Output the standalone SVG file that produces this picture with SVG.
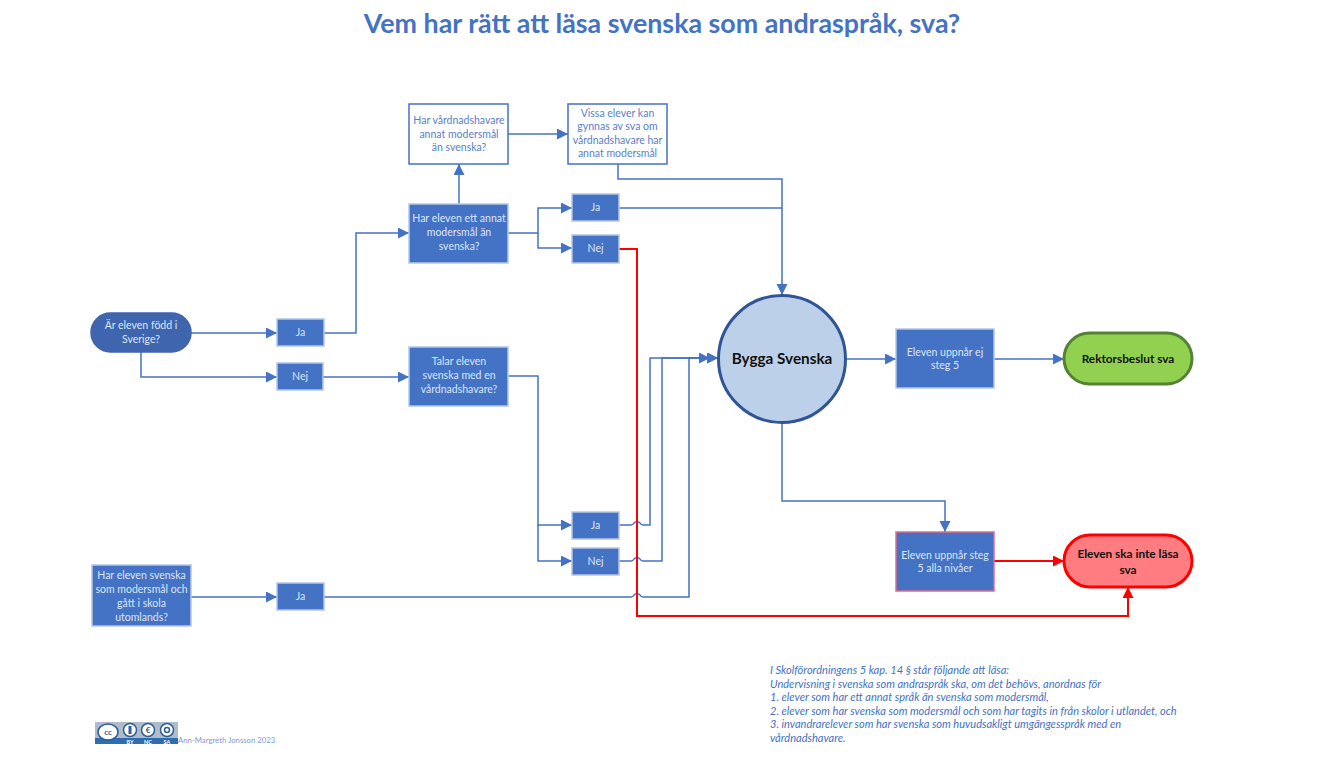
<svg xmlns="http://www.w3.org/2000/svg" width="1320" height="766" viewBox="0 0 1320 766">
<style>
text{font-family:Lato,"Open Sans","Liberation Sans",sans-serif;text-anchor:middle}
.b rect,.b path{fill:#4472C4;stroke:#B4C7E7;stroke-width:1.5}
.b text{fill:#DCE6F5;font-size:10.5px}
.w rect{fill:#fff;stroke:#4472C4;stroke-width:1.5}
.w text{fill:#5B80CB;font-size:10.5px}
.c{fill:none;stroke:#4472C4;stroke-width:1.5}
.c2{fill:none;stroke:#FF0000;stroke-width:2}
.d text{fill:#111;font-weight:700;font-size:11.8px}
.n{fill:#4472C4;font-size:11.05px;font-style:italic;text-anchor:start}
</style>
<defs>
<marker id="a" markerUnits="userSpaceOnUse" markerWidth="13" markerHeight="12" refX="11" refY="5.500" orient="auto"><path d="M0 0L11 5.500L0 11Z" fill="#4472C4"/></marker>
<marker id="r" markerUnits="userSpaceOnUse" markerWidth="13" markerHeight="12" refX="11" refY="5.500" orient="auto"><path d="M0 0L11 5.500L0 11Z" fill="#FF0000"/></marker>
</defs>
<rect width="1320" height="766" fill="#fff"/>
<text x="662" y="33" font-size="26.800" font-weight="700" fill="#4472C4">Vem har rätt att läsa svenska som andraspråk, sva?</text>
<g id="connectors">
<path class="c" marker-end="url(#a)" d="M191 333H277"/>
<path class="c" marker-end="url(#a)" d="M324 333H356V233H409"/>
<path class="c" marker-end="url(#a)" d="M141 352V377H277"/>
<path class="c" marker-end="url(#a)" d="M323 377H409"/>
<path class="c" marker-end="url(#a)" d="M459 204V164"/>
<path class="c" marker-end="url(#a)" d="M508 134H568"/>
<path class="c" marker-end="url(#a)" d="M618 164V179H782V295"/>
<path class="c" marker-end="url(#a)" d="M508 233H538V208H572"/>
<path class="c" marker-end="url(#a)" d="M538 233V248H572"/>
<path class="c" d="M619 208H782"/>
<path class="c" marker-end="url(#a)" d="M508 376H538V525H572"/>
<path class="c" marker-end="url(#a)" d="M538 525V561H572"/>
<path class="c" marker-end="url(#a)" d="M619 525H631Q633 525 634 523Q637 520 640 523Q641 525 643 525H650V358H710"/>
<path class="c" marker-end="url(#a)" d="M619 561H631Q633 561 634 559Q637 556 640 559Q641 561 643 561H662V358H718"/>
<path class="c" marker-end="url(#a)" d="M191 597H277"/>
<path class="c" marker-end="url(#a)" d="M324 597H631Q633 597 634 595Q637 592 640 595Q641 597 643 597H689V358H718"/>
<path class="c" marker-end="url(#a)" d="M847 359H896"/>
<path class="c" marker-end="url(#a)" d="M994 359H1064"/>
<path class="c" marker-end="url(#a)" d="M782 423V501H945V532"/>
<path class="c2" marker-end="url(#r)" d="M994 561H1064"/>
<path class="c2" marker-end="url(#r)" d="M619 249H637V616H1128V587"/>
</g>
<g id="n-fodd" class="b"><rect x="91" y="313" width="100" height="39" rx="19.500" style="fill:#3E65AE;stroke:#3E65AE"/><text x="141" y="329">Är eleven född i</text><text x="141" y="343">Sverige?</text></g>
<g id="n-ja1" class="b"><rect x="277" y="319" width="47" height="27"/><text x="300.500" y="336">Ja</text></g>
<g id="n-nej1" class="b"><rect x="277" y="363" width="46" height="27"/><text x="300" y="380">Nej</text></g>
<g id="n-vard" class="w"><rect x="409" y="104" width="99" height="60"/><text x="459" y="124">Har vårdnadshavare</text><text x="459" y="137.500">annat modersmål</text><text x="459" y="151">än svenska?</text></g>
<g id="n-vissa" class="w"><rect x="568" y="104" width="99" height="60"/><text x="617.500" y="117">Vissa elever kan</text><text x="617.500" y="130">gynnas av sva om</text><text x="617.500" y="143.500">vårdnadshavare har</text><text x="617.500" y="157">annat modersmål</text></g>
<g id="n-annat" class="b"><rect x="409" y="204" width="99" height="59"/><text x="459" y="222">Har eleven ett annat</text><text x="459" y="236">modersmål än</text><text x="459" y="250">svenska?</text></g>
<g id="n-ja2" class="b"><rect x="572" y="194" width="47" height="27"/><text x="595.500" y="211">Ja</text></g>
<g id="n-nej2" class="b"><rect x="572" y="235" width="47" height="28"/><text x="595.500" y="252">Nej</text></g>
<g id="n-talar" class="b"><rect x="409" y="347" width="99" height="59"/><text x="459" y="365">Talar eleven</text><text x="459" y="379">svenska med en</text><text x="459" y="393">vårdnadshavare?</text></g>
<g id="n-ja3" class="b"><rect x="572" y="512" width="47" height="27"/><text x="595.500" y="529">Ja</text></g>
<g id="n-nej3" class="b"><rect x="572" y="548" width="47" height="27"/><text x="595.500" y="565">Nej</text></g>
<g id="n-utom" class="b"><rect x="92" y="565" width="99" height="61"/><text x="141.500" y="579">Har eleven svenska</text><text x="141.500" y="593">som modersmål och</text><text x="141.500" y="607">gått i skola</text><text x="141.500" y="621">utomlands?</text></g>
<g id="n-ja4" class="b"><rect x="277" y="583" width="47" height="27"/><text x="300.500" y="600">Ja</text></g>
<g id="n-bygga"><circle cx="782" cy="359" r="63.500" fill="#BDD0E9" stroke="#2F5597" stroke-width="3"/><text x="782" y="364" font-size="15.300" font-weight="700" fill="#111">Bygga Svenska</text></g>
<g id="n-ej" class="b"><rect x="896" y="329" width="98" height="59"/><text x="945" y="356">Eleven uppnår ej</text><text x="945" y="369">steg 5</text></g>
<g id="n-rektor" class="d"><rect x="1064" y="333" width="128" height="51" rx="25.500" fill="#92D050" stroke="#548235" stroke-width="3"/><text x="1128" y="363">Rektorsbeslut sva</text></g>
<g id="n-steg" class="b"><rect x="896" y="532" width="98" height="59" style="stroke:#E06C8A"/><text x="945" y="559">Eleven uppnår steg</text><text x="945" y="572">5 alla nivåer</text></g>
<g id="n-inte" class="d"><rect x="1064" y="535" width="128" height="52" rx="26" fill="#FF7C80" stroke="#FF0000" stroke-width="3"/><text x="1128" y="558">Eleven ska inte läsa</text><text x="1128" y="574">sva</text></g>
<g id="note">
<text class="n" x="770" y="674">I Skolförordningens 5 kap. 14 § står följande att läsa:</text>
<text class="n" x="770" y="688">Undervisning i svenska som andraspråk ska, om det behövs, anordnas för</text>
<text class="n" x="770" y="701">1. elever som har ett annat språk än svenska som modersmål,</text>
<text class="n" x="770" y="715">2. elever som har svenska som modersmål och som har tagits in från skolor i utlandet, och</text>
<text class="n" x="770" y="728">3. invandrarelever som har svenska som huvudsakligt umgängesspråk med en</text>
<text class="n" x="770" y="742">vårdnadshavare.</text>
</g>
<g id="license">
<rect x="95" y="722" width="83" height="22" fill="#AEBCCB"/>
<rect x="95" y="738" width="83" height="6" fill="#2F6CB0"/>
<g fill="#fff" stroke="#2F5E96" stroke-width="1.500"><ellipse cx="108" cy="732" rx="10" ry="8"/><circle cx="130" cy="730" r="6.500"/><circle cx="148" cy="730" r="6.500"/><circle cx="167" cy="730" r="6.500"/></g>
<text x="108" y="735" font-size="8" font-weight="700" fill="#2F5E96">cc</text>
<rect x="128.500" y="726" width="3" height="8" fill="#2F5E96"/>
<text x="148" y="733" font-size="8" font-weight="700" fill="#2F5E96">€</text>
<circle cx="167" cy="730" r="2.500" fill="none" stroke="#2F5E96" stroke-width="1.500"/>
<g font-size="5.500" font-weight="700" fill="#fff"><text x="130" y="743.500">BY</text><text x="148" y="743.500">NC</text><text x="167" y="743.500">SA</text></g>
<text x="178" y="743" font-size="7.750" fill="#7D9BD6" style="text-anchor:start">Ann-Margréth Jonsson 2023</text>
</g>
</svg>
